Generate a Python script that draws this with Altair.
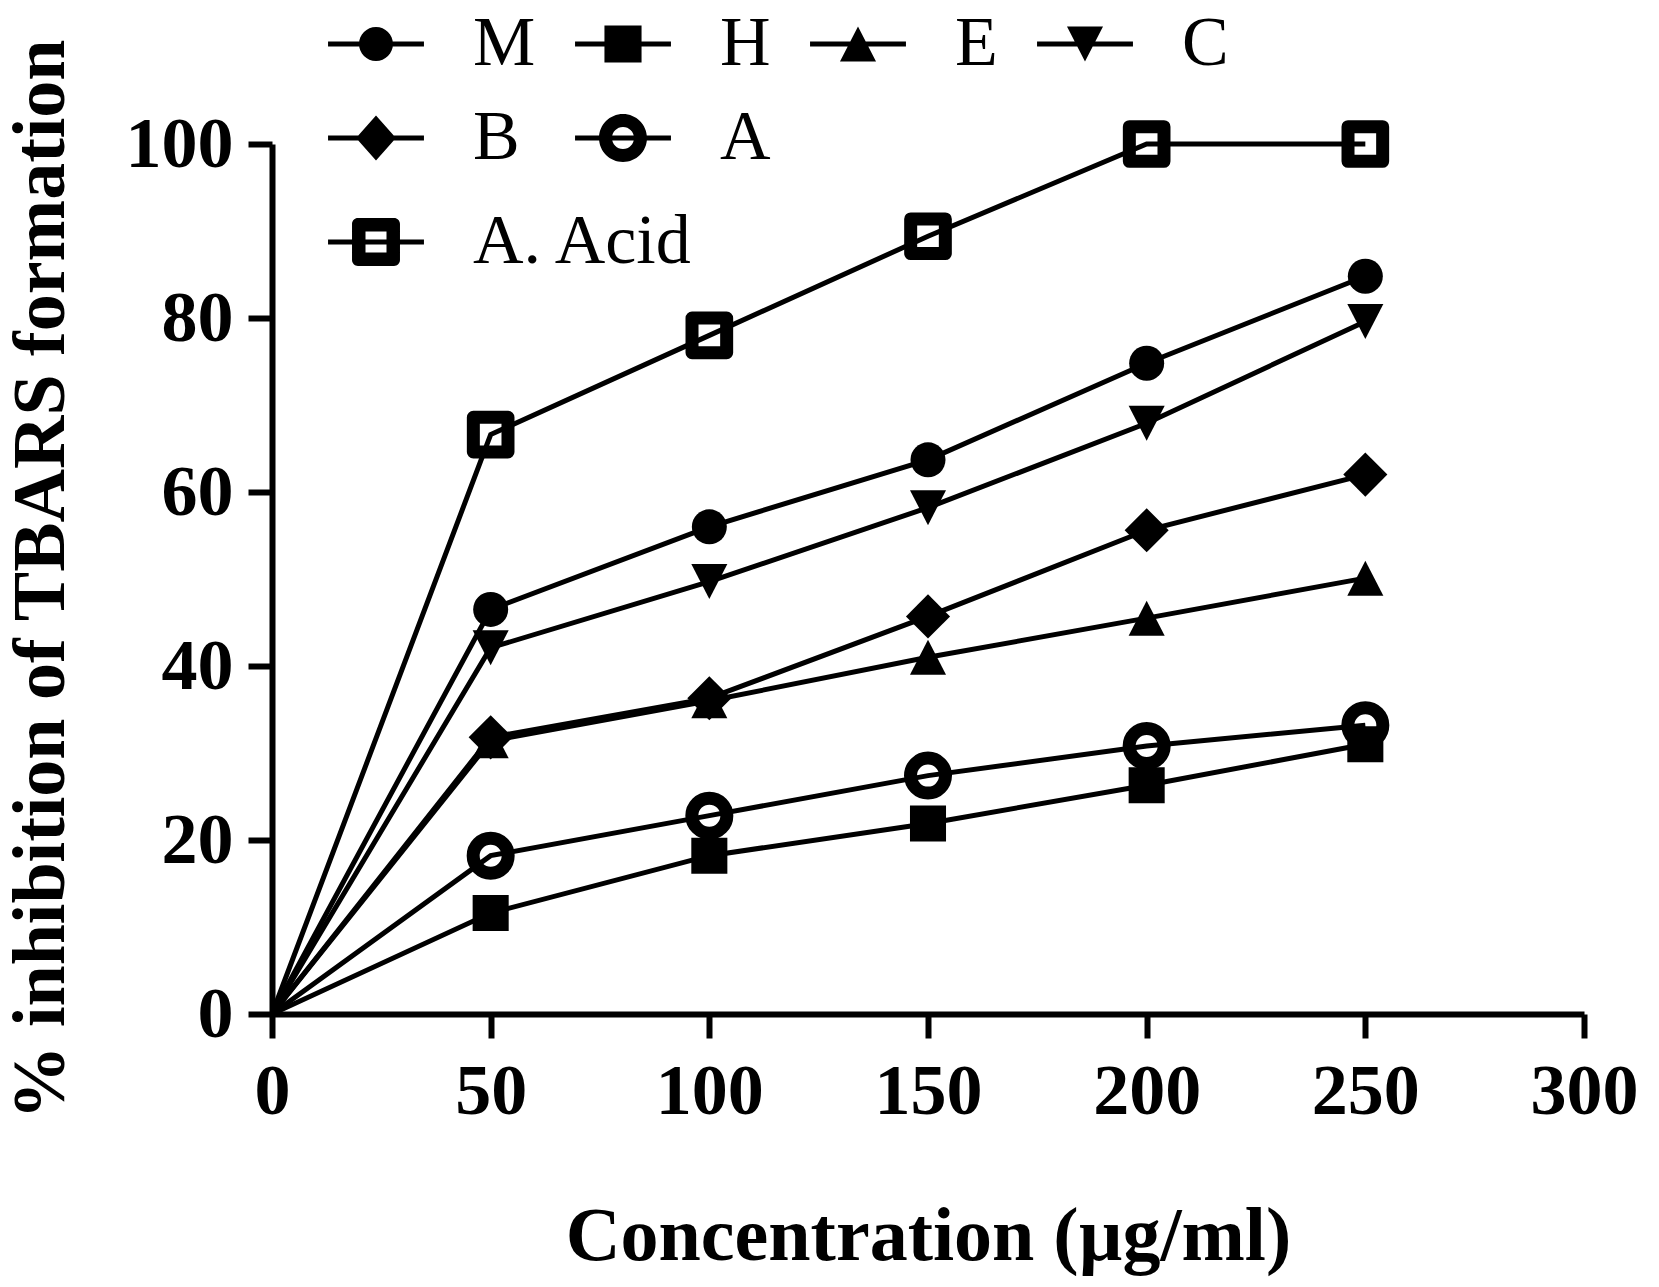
import altair as alt
import pandas as pd

# ---- data ----
conc = [0, 50, 100, 150, 200, 250]
series_names = ["M", "H", "E", "C", "B", "A", "A. Acid"]
M = [0, 46.5, 56.0, 63.7, 74.8, 84.8]
H = [0, 11.6, 18.2, 21.9, 26.3, 31.0]
E = [0, 31.4, 36.0, 41.0, 45.5, 50.1]
C = [0, 42.1, 49.7, 58.2, 67.9, 79.6]
B = [0, 31.8, 36.3, 45.7, 55.6, 62.0]
A = [0, 18.2, 22.8, 27.4, 30.8, 33.2]
A_acid = [0, 66.6, 78.0, 89.4, 100.0, 100.0]
x_ticks = [0, 50, 100, 150, 200, 250, 300]
y_ticks = [0, 20, 40, 60, 80, 100]

values = {"M": M, "H": H, "E": E, "C": C, "B": B, "A": A, "A. Acid": A_acid}
rows = [
    {"series": s, "conc": c, "inhibition": v}
    for s in series_names
    for c, v in zip(conc, values[s])
]
df = pd.DataFrame(rows)

# ---- marker styles (unit = sqrt(size)/2) ----
SIZE = 1225
point_shapes = {
    "M": "circle",
    "H": "M-1.03,-1.03H1.03V1.03H-1.03Z",
    "E": "M0,-1L1.03,1L-1.03,1Z",
    "C": "M0,1L1.03,-1L-1.03,-1Z",
    "B": "M0,-1.26L1.26,0L0,1.26L-1.26,0Z",
    "A": "circle",
    "A. Acid": "M-0.99,-0.99H0.99V0.99H-0.99Z",
}

bar = "M-2.74,-0.143H2.74V0.143H-2.74Z"
def circ_cw(r):
    return f"M{-r},0A{r},{r} 0 1,1 {r},0A{r},{r} 0 1,1 {-r},0Z"
def circ_ccw(r):
    return f"M{-r},0A{r},{r} 0 1,0 {r},0A{r},{r} 0 1,0 {-r},0Z"
def rrect_cw(h, c):
    return (f"M{-h+c},{-h}H{h-c}A{c},{c} 0 0,1 {h},{-h+c}V{h-c}"
            f"A{c},{c} 0 0,1 {h-c},{h}H{-h+c}A{c},{c} 0 0,1 {-h},{h-c}"
            f"V{-h+c}A{c},{c} 0 0,1 {-h+c},{-h}Z")

legend_shapes = {
    "M": bar + circ_cw(0.97),
    "H": bar + "M-1.06,-1.06H1.06V1.06H-1.06Z",
    "E": bar + "M0,-1L1.03,1L-1.03,1Z",
    "C": bar + "M-1.03,-1L1.03,-1L0,1Z",
    "B": bar + "M0,-1.29L1.14,0L0,1.29L-1.14,0Z",
    "A": bar + circ_cw(1.37) + circ_ccw(0.63),
    "A. Acid": bar + rrect_cw(1.37, 0.34) + "M-0.6,-0.6V0.6H0.6V-0.6Z",
}
legend_main = ["M", "H", "E", "C", "B", "A"]
legend_extra = ["A. Acid"]

FONT = "Liberation Serif"

x_enc = alt.X(
    "conc:Q",
    scale=alt.Scale(domain=[0, 300], nice=False, zero=True),
    axis=alt.Axis(values=x_ticks, title="Concentration (µg/ml)", labelPadding=18,
                  titlePadding=72, titleFontSize=76, labelFlush=False),
)
y_enc = alt.Y(
    "inhibition:Q",
    scale=alt.Scale(domain=[0, 100], nice=False),
    axis=alt.Axis(values=y_ticks, title="% inhibition of TBARS formation",
                  labelPadding=15, titlePadding=46, titleFontSize=74),
)
shape_pts = alt.Shape(
    "series:N",
    scale=alt.Scale(domain=series_names, range=[point_shapes[s] for s in series_names]),
    legend=None,
)

lines = alt.Chart(df).mark_line(color="black", strokeWidth=5).encode(
    x=x_enc, y=y_enc, detail="series:N"
)

pts_filled = alt.Chart(df).transform_filter(
    "datum.conc > 0 && indexof(['M','H','E','C','B'], datum.series) >= 0"
).mark_point(filled=True, color="black", size=SIZE, opacity=1, strokeWidth=0).encode(
    x=x_enc, y=y_enc, shape=shape_pts
)

pts_open = alt.Chart(df).transform_filter(
    "datum.conc > 0 && indexof(['A','A. Acid'], datum.series) >= 0"
).mark_point(filled=False, color="black", size=SIZE, opacity=1, strokeWidth=13,
             strokeJoin="round").encode(
    x=x_enc, y=y_enc, shape=shape_pts
)


def legend_props(lx, ly):
    return dict(
        title=None, orient="none", legendX=lx, legendY=ly, columns=4,
        direction="horizontal", symbolSize=SIZE, symbolStrokeWidth=0,
        symbolFillColor="black", symbolStrokeColor="black", symbolOpacity=1,
        labelOffset=62, columnPadding=39, rowPadding=24, padding=0,
        labelFont=FONT, labelFontSize=70, labelFontWeight="normal",
        labelColor="black", labelLimit=500,
    )


legend_layer1 = alt.Chart(df).transform_filter("false").mark_point(
    filled=True, color="black", size=SIZE, opacity=1
).encode(
    shape=alt.Shape(
        "series:N",
        scale=alt.Scale(domain=legend_main, range=[legend_shapes[s] for s in legend_main]),
        legend=alt.Legend(**legend_props(69, -135)),
    )
)

legend_layer2 = alt.Chart(df).transform_filter("false").mark_point(
    filled=True, color="black", size=SIZE, opacity=1
).encode(
    shape=alt.Shape(
        "series:N",
        scale=alt.Scale(domain=legend_extra, range=[legend_shapes[s] for s in legend_extra]),
        legend=alt.Legend(**legend_props(69, 63)),
    )
)

chart = (
    alt.layer(lines, pts_filled, pts_open, legend_layer1, legend_layer2)
    .resolve_scale(shape="independent")
    .properties(
        width=1312, height=870,
        autosize=alt.AutoSizeParams(type="none"),
        padding={"left": 264, "top": 136, "right": 60, "bottom": 270},
        background="white",
    )
    .configure_view(stroke=None)
    .configure_axis(
        grid=False, domainColor="black", domainWidth=6, tickColor="black",
        tickWidth=6, tickSize=24, labelFont=FONT, labelFontSize=72,
        labelFontWeight="bold", labelColor="black", titleFont=FONT,
        titleFontWeight="bold", titleColor="black",
    )
)

chart.save("out.html", embed_options={"renderer": "svg", "actions": False})
